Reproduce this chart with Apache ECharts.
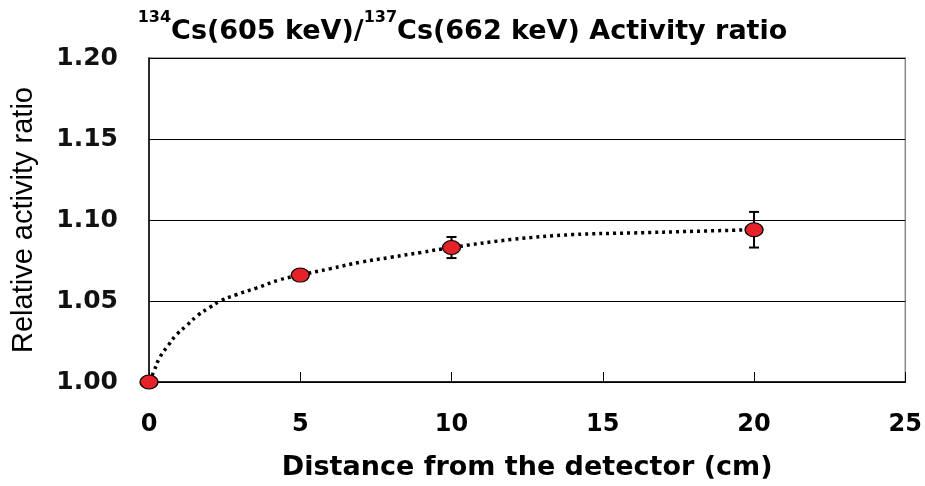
<!DOCTYPE html>
<html>
<head>
<meta charset="utf-8">
<script src="https://cdn.jsdelivr.net/npm/echarts@6/dist/echarts.min.js"></script>
<style>
html,body{margin:0;padding:0;background:#fff;}
#chart{width:925px;height:486px;}
</style>
</head>
<body>
<div id="chart"></div>
<script>
// Measured points
const distances = [0, 5, 10, 20];
const ratios = [1.000, 1.066, 1.083, 1.094];
const errors = [0, 0.002, 0.0065, 0.011];

// Fitted curve
const fitX = [0, 0.15, 0.35, 0.65, 0.9, 1.25, 1.6, 2.0, 2.35, 2.9, 3.55, 4.3, 5, 6, 7, 8, 9, 10, 12, 14, 16, 18, 20];
const fitY = [1.000, 1.006, 1.015, 1.023, 1.029, 1.035, 1.041, 1.046, 1.050, 1.054, 1.058, 1.063, 1.066, 1.070, 1.074, 1.077, 1.080, 1.083, 1.088, 1.091, 1.092, 1.093, 1.094];

const yTicks = ['1.00', '1.05', '1.10', '1.15', '1.20'];
const xTicks = ['0', '5', '10', '15', '20', '25'];

const chart = echarts.init(document.getElementById('chart'));

const pointData = distances.map((d, i) => [d, ratios[i]]);
const errData = distances.map((d, i) => [d, ratios[i] - errors[i], ratios[i] + errors[i]]);
const fitData = fitX.map((x, i) => [x, fitY[i]]);

const option = {
  backgroundColor: '#fff',
  animation: false,
  title: {
    left: 'center',
    top: 5,
    text: '{sup|134}{main|Cs(605 keV)/}{sup|137}{main|Cs(662 keV) Activity ratio}',
    textStyle: {
      rich: {
        main: { fontFamily: 'DejaVu Sans', fontWeight: 'bold', fontSize: 27, color: '#000', lineHeight: 35, verticalAlign: 'bottom' },
        sup: { fontFamily: 'DejaVu Sans', fontWeight: 'bold', fontSize: 16, color: '#000', lineHeight: 19, verticalAlign: 'top' }
      }
    }
  },
  grid: {
    left: 149, right: 18, top: 58, bottom: 102,
    show: true, borderColor: '#8a8a8a', borderWidth: 1.5, backgroundColor: '#fff'
  },
  xAxis: {
    type: 'value', min: 0, max: 25, interval: 5,
    name: 'Distance from the detector (cm)',
    nameLocation: 'middle', nameGap: 72,
    nameTextStyle: { fontFamily: 'DejaVu Sans', fontWeight: 'bold', fontSize: 27, color: '#000' },
    axisLine: { show: true, lineStyle: { color: '#000', width: 1.5 } },
    axisTick: { show: true, inside: true, length: 10, lineStyle: { color: '#000', width: 1 } },
    axisLabel: {
      fontFamily: 'DejaVu Sans', fontWeight: 'bold', fontSize: 24, color: '#000', margin: 31,
      formatter: (v) => xTicks[Math.round(v / 5)]
    },
    splitLine: { show: false }
  },
  yAxis: {
    type: 'value', min: 1.0, max: 1.2, interval: 0.05,
    name: 'Relative activity ratio',
    nameLocation: 'middle', nameGap: 111, nameRotate: 90,
    nameTextStyle: { fontFamily: 'Liberation Sans', fontSize: 29, color: '#000' },
    axisLine: { show: true, lineStyle: { color: '#000', width: 1.5 } },
    axisTick: { show: true, inside: true, length: 12, lineStyle: { color: '#000', width: 1 } },
    axisLabel: {
      fontFamily: 'DejaVu Sans', fontWeight: 'bold', fontSize: 25, color: '#111', margin: 31,
      formatter: (v) => yTicks[Math.round((v - 1) / 0.05)]
    },
    splitLine: { show: true, lineStyle: { color: '#000', width: 1.2 } }
  },
  series: [
    {
      type: 'line',
      data: fitData,
      smooth: 0.4,
      symbol: 'none',
      z: 2,
      lineStyle: { color: '#000', width: 3.5, type: [3, 4] }
    },
    {
      type: 'custom',
      z: 3,
      data: errData,
      clip: false,
      renderItem: function (params, api) {
        const x = api.coord([api.value(0), api.value(1)])[0];
        const lo = api.coord([api.value(0), api.value(1)])[1];
        const hi = api.coord([api.value(0), api.value(2)])[1];
        const hw = 5;
        const st = { stroke: '#000', lineWidth: 2 };
        return {
          type: 'group',
          children: [
            { type: 'line', shape: { x1: x, y1: lo, x2: x, y2: hi }, style: st },
            { type: 'line', shape: { x1: x - hw, y1: lo, x2: x + hw, y2: lo }, style: st },
            { type: 'line', shape: { x1: x - hw, y1: hi, x2: x + hw, y2: hi }, style: st }
          ]
        };
      }
    },
    {
      type: 'scatter',
      data: pointData,
      z: 4,
      clip: false,
      symbol: 'circle',
      symbolSize: [18, 14],
      itemStyle: { color: '#e52228', borderColor: '#000', borderWidth: 1.2, opacity: 1 }
    }
  ]
};
chart.setOption(option);
</script>
</body>
</html>
